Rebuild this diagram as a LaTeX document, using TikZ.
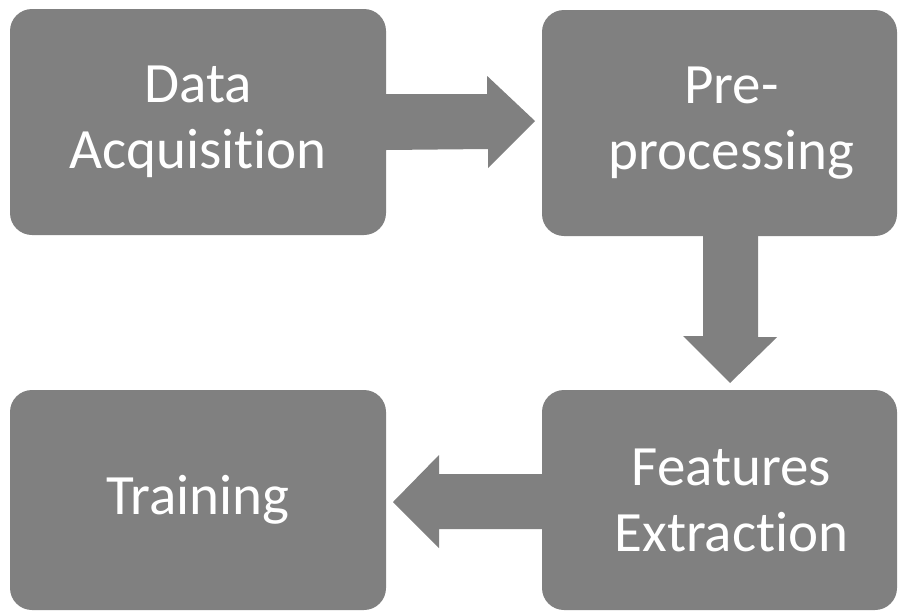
\documentclass[tikz,border=0pt]{standalone}
\usepackage{fontspec}
\setmainfont{Carlito}[RawFeature={-liga;-clig;-dlig}]
\definecolor{boxgray}{HTML}{808080}
\newcommand{\rpad}{\hspace*{24pt}}
\begin{document}
\begin{tikzpicture}[x=1pt,y=-1pt,
  stagebox/.style={fill=boxgray, rounded corners=22pt, text=white, align=center,
    inner sep=0pt, font=\fontsize{57}{66}\selectfont},
  flowarrow/.style={fill=boxgray}]
\useasboundingbox (0,0) rectangle (907,611);
\node[stagebox, minimum width=376pt, minimum height=226pt] (da) at (198,122) {Data\\Acquisition};
\node[stagebox, minimum width=355pt, minimum height=226pt] (pp) at (719.5,123) {\rpad Pre-\\\rpad processing};
\node[stagebox, minimum width=355pt, minimum height=220pt] (fe) at (719.5,500) {\rpad Features\\\rpad Extraction};
\node[stagebox, minimum width=376pt, minimum height=220pt] (tr) at (198,500) {Training};
% block arrows between the stages
\fill[flowarrow] ([yshift=28pt]da.east) -- ++(101,0) -- ++(0,-18) -- (535,121) -- (488,168) -- ++(0,-19) -- ([yshift=-28pt]da.east) -- cycle;
\fill[flowarrow] ([xshift=-16.5pt]pp.south) -- ++(55,0) -- ++(0,101) -- ++(19,0) -- (730,383) -- (683,336) -- ++(20,0) -- cycle;
\fill[flowarrow] ([yshift=26pt]fe.west) -- (439,474) -- (439,455) -- (393,502) -- (439,548) -- (439,529) -- ([yshift=-29pt]fe.west) -- cycle;
\end{tikzpicture}
\end{document}
